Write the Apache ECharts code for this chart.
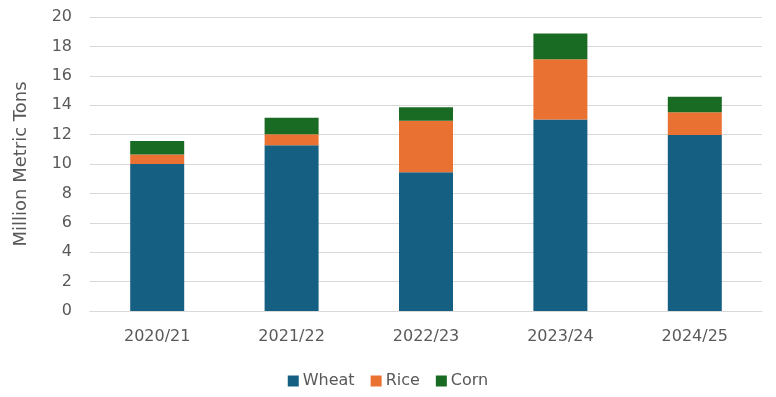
<!DOCTYPE html>
<html>
<head>
<meta charset="utf-8">
<script src="https://cdn.jsdelivr.net/npm/echarts@6/dist/echarts.min.js"></script>
<style>
  html, body { margin: 0; padding: 0; background: #fff; }
  #chart { width: 776px; height: 397px; }
</style>
</head>
<body>
<div id="chart"></div>
<script>
var years = ['2020/21', '2021/22', '2022/23', '2023/24', '2024/25'];
var wheat = [10.0, 11.27, 9.44, 13.02, 11.97];
var rice = [0.64, 0.75, 3.51, 4.1, 1.55];
var corn = [0.93, 1.13, 0.91, 1.75, 1.06];

var font = 'DejaVu Sans';
var textColor = '#595959';

var chartDom = document.getElementById('chart');
var myChart = echarts.init(chartDom);

function bar(name, data, color) {
    return {
        name: name,
        type: 'bar',
        stack: 'total',
        data: data,
        barWidth: 54,
        itemStyle: { color: color },
        emphasis: { disabled: true }
    };
}

var option = {
    animation: false,
    textStyle: { fontFamily: font },
    grid: { left: 90, right: 14, top: 17, bottom: 86, containLabel: false },
    legend: {
        bottom: 3,
        left: 'center',
        itemWidth: 11,
        itemHeight: 11,
        itemGap: 16,
        icon: 'rect',
        textStyle: { fontFamily: font, fontSize: 16, color: textColor, padding: [0, 0, 0, -1] },
        data: ['Wheat', 'Rice', 'Corn']
    },
    xAxis: {
        type: 'category',
        data: years,
        axisLine: { lineStyle: { color: '#D9D9D9', width: 1 } },
        axisTick: { show: false },
        axisLabel: { color: textColor, fontSize: 16, fontFamily: font, margin: 18 }
    },
    yAxis: {
        type: 'value',
        min: 0,
        max: 20,
        interval: 2,
        name: 'Million Metric Tons',
        nameLocation: 'middle',
        nameGap: 60,
        nameTextStyle: { color: textColor, fontSize: 18, fontFamily: font },
        axisLine: { show: false },
        axisTick: { show: false },
        axisLabel: { color: textColor, fontSize: 16, fontFamily: font, margin: 18 },
        splitLine: { lineStyle: { color: '#D9D9D9', width: 1 } }
    },
    series: [
        bar('Wheat', wheat, '#156082'),
        bar('Rice', rice, '#E97132'),
        bar('Corn', corn, '#196B24')
    ]
};

option && myChart.setOption(option);
</script>
</body>
</html>
